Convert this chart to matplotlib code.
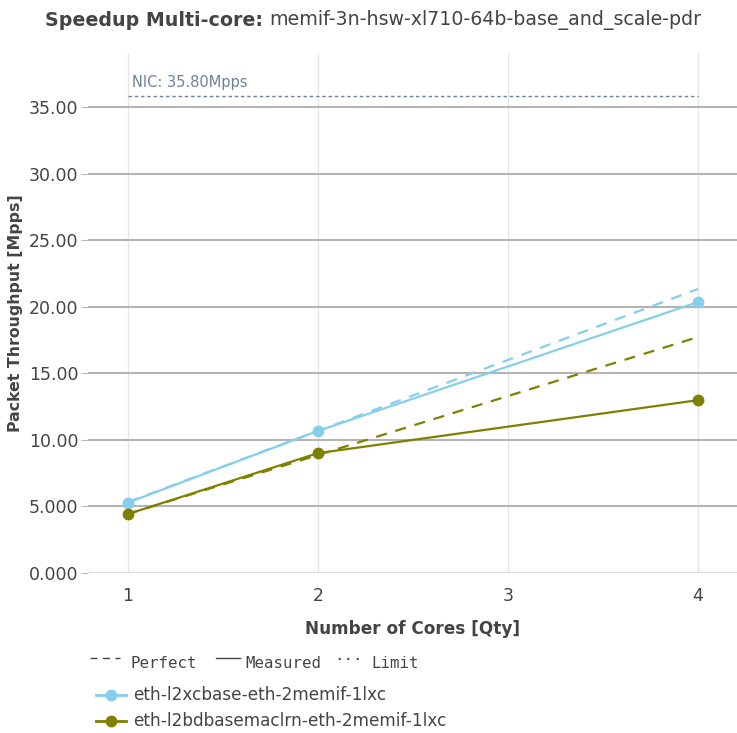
import matplotlib.pyplot as plt
from matplotlib.lines import Line2D

cores = [1, 2, 4]
l2xc_measured = [5.28, 10.67, 20.35]
l2bd_measured = [4.43, 9.00, 12.98]
l2xc_perfect = [5.33, 10.67, 21.33]
l2bd_perfect = [4.43, 8.86, 17.72]
nic_limit = 35.80
series_names = ["eth-l2xcbase-eth-2memif-1lxc", "eth-l2bdbasemaclrn-eth-2memif-1lxc"]
colors = ["#87ceeb", "#808000"]
yticks = [0, 5, 10, 15, 20, 25, 30, 35]
ytick_labels = ["0.000", "5.000", "10.00", "15.00", "20.00", "25.00", "30.00", "35.00"]

W, H = 737, 733
fig = plt.figure(figsize=(W / 100, H / 100), dpi=100)
ax = fig.add_axes([88 / W, 1 - 573 / H, (737 - 88) / W, (573 - 53) / H])

txt = "#444444"

# perfect (dashed) and measured (solid)
for perf, meas, c in [(l2xc_perfect, l2xc_measured, colors[0]),
                      (l2bd_perfect, l2bd_measured, colors[1])]:
    ax.plot(cores, perf, color=c, lw=1.6, ls=(0, (5, 4)), zorder=3)
    ax.plot(cores, meas, color=c, lw=1.6, marker="o", ms=7.5, zorder=4)

# NIC limit
ax.plot([1, 4], [nic_limit, nic_limit], color="#6d829e", lw=1, ls=(0, (2.5, 2)), zorder=3)
ax.text(1.02, nic_limit + 0.5, "NIC: 35.80Mpps", color="#6d829e", fontsize=10.5, va="bottom")

ax.set_xlim(0.79, 4.205)
ax.set_ylim(0, 39.05)
ax.set_xticks([1, 2, 3, 4])
ax.set_yticks(yticks)
ax.set_yticklabels(ytick_labels)
ax.tick_params(axis="x", length=0, labelsize=12.5, colors=txt, pad=10)
ax.tick_params(axis="y", length=5, color="#bbbbbb", labelsize=12.5, labelcolor=txt, pad=2)

ax.grid(axis="x", color="#e6e6e6", lw=1)
ax.grid(axis="y", color="#b4b4b4", lw=1.5)
ax.set_axisbelow(True)
for s in ax.spines.values():
    s.set_visible(False)
ax.axhline(0, color="#e0e0e0", lw=2, zorder=1)

ax.set_xlabel("Number of Cores [Qty]", fontsize=12.2, fontweight="bold", color=txt, labelpad=11)
ax.set_ylabel("Packet Throughput [Mpps]", fontsize=11.3, fontweight="bold", color=txt, labelpad=4)

# title
t1 = fig.text(0, 1 - 20 / H, "Speedup Multi-core: ", fontsize=13.7, fontweight="bold",
              color=txt, va="center")
t2 = fig.text(0, 1 - 20 / H, "memif-3n-hsw-xl710-64b-base_and_scale-pdr", fontsize=13.7,
              color=txt, va="center")
fig.canvas.draw()
r = fig.canvas.get_renderer()
w1 = t1.get_window_extent(r).width
w2 = t2.get_window_extent(r).width
x0 = 373 - (w1 + w2) / 2
t1.set_x(x0 / W)
t2.set_x((x0 + w1) / W)

# line-style legend
def fx(px):
    return px / W

def fy(py):
    return 1 - py / H

fig.add_artist(Line2D([fx(90), fx(120)], [fy(658), fy(658)], color="#444444", lw=1,
                      ls=(0, (5, 4)), transform=fig.transFigure))
fig.text(fx(131), fy(664), "Perfect", family="monospace", fontsize=11.3, color=txt, va="center")
fig.add_artist(Line2D([fx(216), fx(240)], [fy(658), fy(658)], color="#444444", lw=1,
                      transform=fig.transFigure))
fig.text(fx(245), fy(664), "Measured", family="monospace", fontsize=11.3, color=txt, va="center")
fig.text(fx(334), fy(655), "...", family="monospace", fontsize=11.3, color=txt, va="center")
fig.text(fx(371), fy(664), "Limit", family="monospace", fontsize=11.3, color=txt, va="center")

# series legend
for i, (name, c) in enumerate(zip(series_names, colors)):
    yy = fy(695 + 26 * i)
    fig.add_artist(Line2D([fx(96), fx(126)], [yy, yy], color=c, lw=2,
                          transform=fig.transFigure))
    fig.add_artist(Line2D([fx(111)], [yy], color=c, marker="o", ms=7.5,
                          transform=fig.transFigure))
    fig.text(fx(133), yy, name, fontsize=12.2, color=txt, va="center")

fig.savefig("out.png", dpi=100)
